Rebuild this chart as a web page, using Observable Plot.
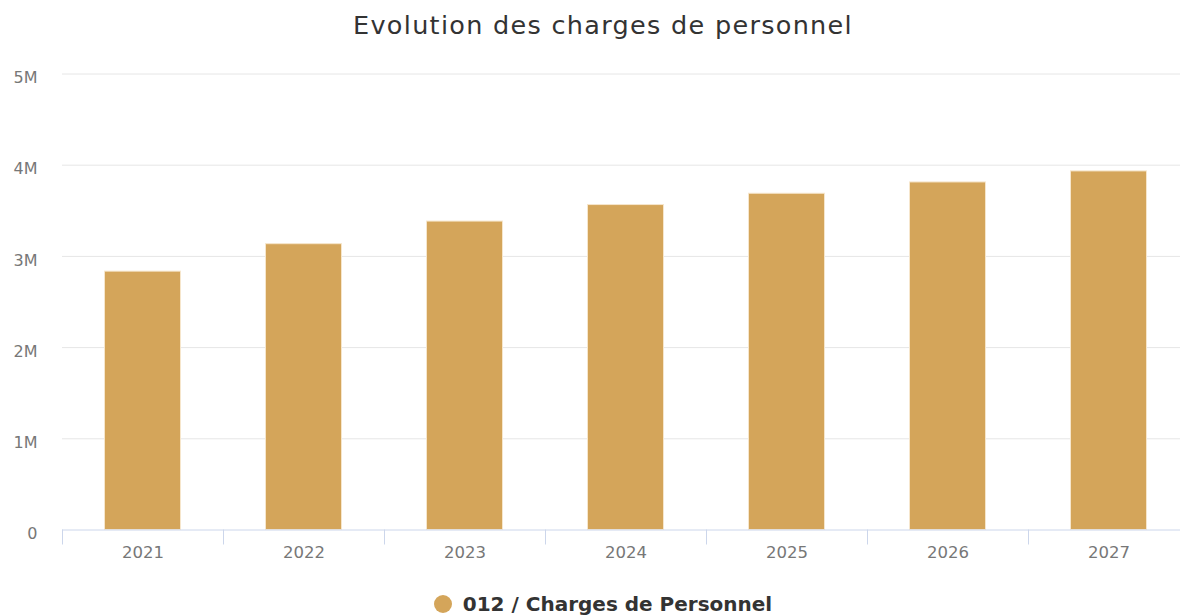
<!DOCTYPE html>
<html>
<head>
<meta charset="utf-8">
<script src="https://cdn.jsdelivr.net/npm/d3@7"></script>
<script src="https://cdn.jsdelivr.net/npm/@observablehq/plot@0.6"></script>
<style>
  html, body { margin: 0; padding: 0; background: #fff; }
  body { width: 1180px; height: 615px; position: relative; overflow: hidden; font-family: "DejaVu Sans", sans-serif; }
  #chart { position: absolute; top: 0; left: 0; z-index: 0; }
  #title { position: absolute; z-index: 2; top: 10px; left: 0; width: 1206px; text-align: center; font-size: 25.5px; letter-spacing: 1.3px; color: #333; white-space: nowrap; }
  #legend { position: absolute; z-index: 2; top: 592px; left: 0; width: 1206px; text-align: center; font-size: 20px; font-weight: bold; color: #333; white-space: nowrap; line-height: 24px; }
  #legend .dot { display: inline-block; width: 18px; height: 18px; border-radius: 50%; background: #d4a55a; vertical-align: -2px; margin-right: 11px; }
</style>
</head>
<body>
<div id="chart"></div>
<div id="title">Evolution des charges de personnel</div>
<div id="legend"><span class="dot"></span>012 / Charges de Personnel</div>
<script>
const years = [2021, 2022, 2023, 2024, 2025, 2026, 2027];
const values = [2833000, 3134000, 3382000, 3563000, 3687000, 3811000, 3932000];
const yTicks = [0, 1000000, 2000000, 3000000, 4000000, 5000000];
const seriesName = "012 / Charges de Personnel";
const barColor = "#d4a55a";

const data = years.map((year, i) => ({year, value: values[i]}));
const boundaries = years.map(y => y - 0.5).concat([years[years.length - 1] + 0.5]);
const halfBar = 0.236;

const chart = Plot.plot({
  width: 1180,
  height: 615,
  marginLeft: 62,
  marginRight: 0,
  marginTop: 73.5,
  marginBottom: 85.5,
  style: {fontFamily: "DejaVu Sans, sans-serif", background: "transparent"},
  x: {domain: [boundaries[0], boundaries[boundaries.length - 1]], range: [62, 1189], label: null},
  y: {domain: [0, 5000000], label: null},
  marks: [
    Plot.gridY(yTicks.filter(d => d > 0), {stroke: "#e6e6e6", strokeOpacity: 1, strokeWidth: 1}),
    Plot.rectY(data, {
      x1: d => d.year - halfBar,
      x2: d => d.year + halfBar,
      y: "value",
      fill: barColor,
      stroke: "#f6e6cc",
      strokeWidth: 1,
      title: d => `${seriesName}: ${d.value}`
    }),
    Plot.ruleY([0], {stroke: "#ccd6eb", strokeWidth: 1}),
    Plot.axisX({ticks: boundaries, tickSize: 15, tickFormat: () => "", stroke: "#ccd6eb", label: null}),
    Plot.axisX({ticks: years, tickSize: 0, tickPadding: 16, tickFormat: d => String(d), fill: "#777", fontSize: 16.5, label: null}),
    Plot.axisY({ticks: yTicks, tickSize: 0, tickPadding: 25, dy: 4, tickFormat: d => d === 0 ? "0" : (d / 1e6) + "M", fill: "#777", fontSize: 16, label: null})
  ]
});
document.getElementById("chart").appendChild(chart);
</script>
</body>
</html>
